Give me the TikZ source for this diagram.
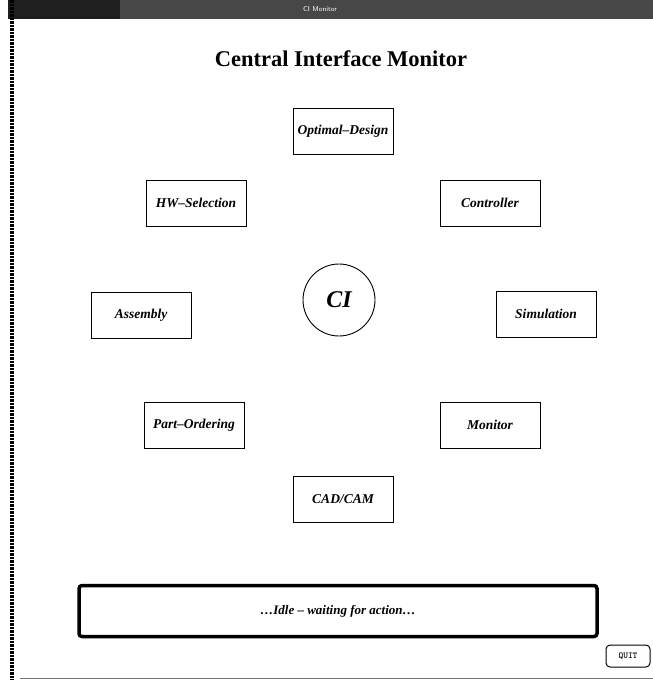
\documentclass[tikz,border=0pt]{standalone}
\usepackage{fontspec}
\setmainfont{Liberation Serif}
\begin{document}
\begin{tikzpicture}[x=1pt,y=-1pt,
  modbox/.style={draw=black,line width=0.9pt,minimum width=100pt,minimum height=46pt,
    inner sep=0pt,font=\fontsize{13.5}{15}\selectfont\bfseries\itshape},
  hub/.style={draw=black,line width=0.9pt,circle,minimum size=72pt,inner sep=0pt,
    font=\fontsize{24}{28}\selectfont\bfseries\itshape},
  statusbox/.style={draw=black,line width=3.5pt,rounded corners=3pt,minimum width=518pt,
    minimum height=51pt,inner sep=0pt,font=\fontsize{13}{15}\selectfont\bfseries\itshape},
  quitbtn/.style={draw=black,line width=1pt,rounded corners=4pt,minimum width=44pt,
    minimum height=22pt,inner sep=0pt,font=\ttfamily\bfseries\fontsize{9}{10}\selectfont}]
  % page frame
  \useasboundingbox[fill=white] (0,0) rectangle (653,680);
  % window title bar
  \fill[black!72] (8,0) rectangle (653,19);
  \fill[black!88] (8,0) rectangle (120,19);
  \node[text=white,font=\sffamily\fontsize{7}{8}\selectfont] (bar) at (320,9) {CI Monitor};
  % left window edge
  \draw[line width=4pt,dash pattern=on 2.5pt off 1pt] (12,0) -- (12,680);
  % bottom edge
  \draw[black!55,line width=1pt] (20,678) -- (653,678);
  % heading
  \node[font=\fontsize{22.5}{26}\selectfont\bfseries] (title) at (341,59) {Central Interface Monitor};
  % hub and modules
  \node[hub] (ci) at (339,300) {CI};
  \node[modbox] (opt) at (343,131) {Optimal--Design};
  \node[modbox] (hw) at (196,203) {HW--Selection};
  \node[modbox] (ctrl) at (490,203) {Controller};
  \node[modbox] (asm) at (141,315) {Assembly};
  \node[modbox] (sim) at (546,314) {Simulation};
  \node[modbox] (part) at (194,425) {Part--Ordering};
  \node[modbox] (mon) at (490,425) {Monitor};
  \node[modbox] (cad) at (343,499) {CAD/CAM};
  % status line and quit button
  \node[statusbox] (status) at (338,611) {\dots Idle -- waiting for action\dots};
  \node[quitbtn] (quit) at (628,656) {QUIT};
\end{tikzpicture}
\end{document}
